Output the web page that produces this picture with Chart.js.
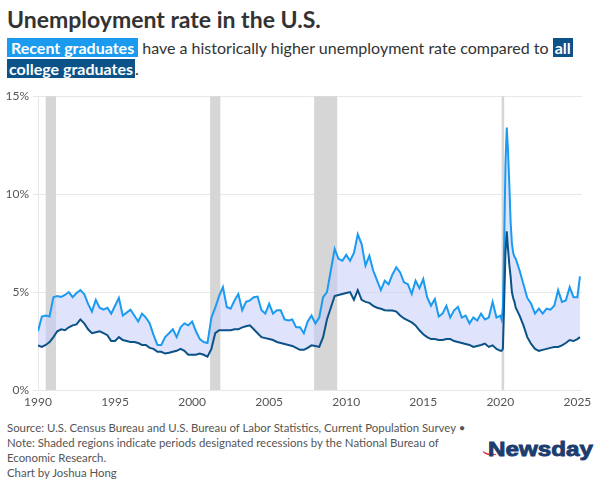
<!DOCTYPE html>
<html lang="en">
<head>
  <meta charset="UTF-8">
  <meta name="viewport" content="width=device-width, initial-scale=1.0">
  <title>Unemployment rate in the U.S.</title>
  <style>
    body {
      margin: 0;
      width: 600px;
      height: 481px;
      overflow: hidden;
      background: #fff;
      font-family: Lato, "Open Sans", sans-serif;
      color: #333;
      position: relative;
    }
    #title {
      position: absolute;
      left: 7px;
      top: 6px;
      font-size: 23px;
      font-weight: 700;
      line-height: 1.2;
      color: #333;
    }
    #subtitle {
      position: absolute;
      left: 7px;
      top: 37px;
      font-size: 16px;
      line-height: 21px;
      color: #333;
      white-space: nowrap;
    }
    .hl1 { background: #1a9bf0; color: #fff; font-weight: 700; padding: 0 4px; }
    .hl2 { background: #0b5288; color: #fff; font-weight: 700; padding: 0 2px; }
    #chartBox {
      position: absolute;
      left: 0;
      top: 85px;
      width: 600px;
      height: 327px;
    }
    #notes {
      position: absolute;
      left: 7px;
      top: 420px;
      font-size: 11.4px;
      line-height: 15px;
      color: #555;
      white-space: nowrap;
    }
    #logo {
      position: absolute;
      left: 478px;
      top: 435px;
    }
  </style>
  <script src="https://cdn.jsdelivr.net/npm/chart.js@4"></script>
</head>
<body>

  <div id="title">Unemployment rate in the U.S.</div>
  <div id="subtitle"><span class="hl1">Recent graduates</span> have a historically higher unemployment rate compared to <span class="hl2">all</span><br><span class="hl2">college graduates</span>.</div>

  <div id="chartBox"><canvas id="chart"></canvas></div>

  <div id="notes">
    Source: U.S. Census Bureau and U.S. Bureau of Labor Statistics, Current Population Survey •<br>
    Note: Shaded regions indicate periods designated recessions by the National Bureau of<br>
    Economic Research.<br>
    Chart by Joshua Hong
  </div>

  <!-- logo -->
  <svg id="logo" width="120" height="30" viewBox="0 0 120 30">
    <path d="M5 16.5 Q8 21 18 19.5 Q9 19.5 5 16.5 Z" fill="#e0252d" stroke="#e0252d" stroke-width="0.7"/>
    <text x="10" y="21" font-family="Liberation Sans, Arial, sans-serif" font-weight="700" font-size="21"
          fill="#1d3c6e" stroke="#1d3c6e" stroke-width="0.9" textLength="105" lengthAdjust="spacingAndGlyphs">Newsday</text>
  </svg>

  <script>
    // 日期（季度，2020年按月）
    const dates = [
      '1990-01','1990-04','1990-07','1990-10', '1991-01','1991-04','1991-07','1991-10',
      '1992-01','1992-04','1992-07','1992-10', '1993-01','1993-04','1993-07','1993-10',
      '1994-01','1994-04','1994-07','1994-10', '1995-01','1995-04','1995-07','1995-10',
      '1996-01','1996-04','1996-07','1996-10', '1997-01','1997-04','1997-07','1997-10',
      '1998-01','1998-04','1998-07','1998-10', '1999-01','1999-04','1999-07','1999-10',
      '2000-01','2000-04','2000-07','2000-10', '2001-01','2001-04','2001-07','2001-10',
      '2002-01','2002-04','2002-07','2002-10', '2003-01','2003-04','2003-07','2003-10',
      '2004-01','2004-04','2004-07','2004-10', '2005-01','2005-04','2005-07','2005-10',
      '2006-01','2006-04','2006-07','2006-10', '2007-01','2007-04','2007-07','2007-10',
      '2008-01','2008-04','2008-07','2008-10', '2009-01','2009-04','2009-07','2009-10',
      '2010-01','2010-04','2010-07','2010-10', '2011-01','2011-04','2011-07','2011-10',
      '2012-01','2012-04','2012-07','2012-10', '2013-01','2013-04','2013-07','2013-10',
      '2014-01','2014-04','2014-07','2014-10', '2015-01','2015-04','2015-07','2015-10',
      '2016-01','2016-04','2016-07','2016-10', '2017-01','2017-04','2017-07','2017-10',
      '2018-01','2018-04','2018-07','2018-10', '2019-01','2019-04','2019-07','2019-10',
      '2020-01','2020-02','2020-03','2020-04','2020-05','2020-06',
      '2020-07','2020-08','2020-09','2020-10','2020-11','2020-12',
      '2021-01','2021-04','2021-07','2021-10', '2022-01','2022-04','2022-07','2022-10',
      '2023-01','2023-04','2023-07','2023-10', '2024-01','2024-04','2024-07','2024-10',
      '2025-01','2025-03'
    ];

    // 应届毕业生失业率 (%)
    const recentGrads = [
      3.0, 3.75, 3.8, 3.75,   4.74, 4.8, 4.75, 4.85,
      5.0, 4.74, 4.95, 5.1,   4.9, 4.4, 4.0, 4.6,
      4.2, 4.1, 4.2, 3.9,     4.3, 4.7, 3.8, 3.95,
      4.1, 3.8, 3.5, 3.9,     3.7, 3.4, 2.8, 2.3,
      2.3, 2.7, 2.9, 3.1,     2.7, 3.2, 3.4, 3.3,
      3.5, 3.0, 2.6, 2.45,    2.4, 3.7, 4.2, 4.8,
      5.25, 4.24, 4.15, 4.57, 4.9, 4.07, 4.5, 4.57,
      4.74, 4.77, 4.07, 3.9,  4.4, 3.9, 4.07, 4.07,
      3.6, 3.55, 3.6, 3.2,    3.2, 2.9, 3.5, 3.8,
      3.4, 3.7, 4.74, 5.0,    6.1, 7.2, 6.7, 6.6,
      6.9, 6.6, 7.0, 7.95,    7.45, 6.35, 6.85, 6.1,
      5.6, 5.1, 5.58, 5.4,    5.9, 6.26, 6.0, 5.5,
      5.4, 4.9, 5.58, 5.2,    5.66, 4.74, 4.3, 4.65,
      3.75, 3.9, 4.3, 3.7,    4.07, 4.24, 3.7, 3.8,
      3.4, 3.7, 3.55, 3.9,    3.6, 3.7, 4.5, 3.7,
      3.8, 3.6, 4.2, 7.5, 11.5, 13.4,
      12.2, 10.5, 8.6, 7.5, 7.0, 6.8,
      6.7, 6.1, 5.4, 4.7,     4.4, 3.9, 4.15, 3.9,
      4.15, 4.1, 4.3, 5.1,    4.5, 4.57, 5.25, 4.74,
      4.74, 5.8
    ];

    // 全部大学毕业生失业率 (%)
    const allGrads = [
      2.28, 2.2, 2.3, 2.45,   2.7, 3.0, 3.1, 3.05,
      3.2, 3.3, 3.35, 3.6,    3.4, 3.1, 2.9, 2.95,
      3.0, 2.9, 2.8, 2.5,     2.5, 2.7, 2.55, 2.5,
      2.45, 2.45, 2.4, 2.3,   2.3, 2.15, 2.1, 1.95,
      1.95, 1.86, 1.9, 1.95,  2.0, 2.1, 2.0, 1.8,
      1.8, 1.8, 1.86, 1.8,    1.7, 2.1, 2.9, 3.05,
      3.05, 3.05, 3.05, 3.1,  3.1, 3.2, 3.25, 3.3,
      3.1, 2.9, 2.7, 2.65,    2.6, 2.55, 2.45, 2.4,
      2.35, 2.3, 2.25, 2.15,  2.05, 2.05, 2.15, 2.28,
      2.25, 2.2, 2.7, 3.6,    4.2, 4.8, 4.85, 4.9,
      4.95, 5.0, 4.6, 5.1,    4.6, 4.5, 4.45, 4.3,
      4.2, 4.15, 4.07, 4.06,  4.06, 4.0, 3.8, 3.65,
      3.55, 3.45, 3.3, 3.05,  2.85, 2.7, 2.6, 2.6,
      2.55, 2.55, 2.6, 2.6,   2.5, 2.45, 2.4, 2.35,
      2.3, 2.2, 2.25, 2.3,    2.37, 2.2, 2.28, 2.1,
      2.0, 2.0, 2.1, 4.5, 7.0, 8.1,
      7.2, 6.4, 5.8, 5.0, 4.7, 4.5,
      4.2, 3.8, 3.3, 2.7,     2.35, 2.1, 2.0, 2.05,
      2.1, 2.15, 2.2, 2.2,    2.28, 2.4, 2.55, 2.5,
      2.6, 2.7
    ];

    // 经济衰退区间（NBER）
    const recessionStart = ['1990-07', '2001-03', '2007-12', '2020-02'];
    const recessionEnd   = ['1991-03', '2001-11', '2009-06', '2020-04'];

    const xTicks = [1990, 1995, 2000, 2005, 2010, 2015, 2020, 2025];
    const yTicks = [0, 5, 10, 15];

    // "YYYY-MM" 转成小数年份
    function toYear(s) {
      const parts = s.split('-').map(Number);
      return parts[0] + (parts[1] - 1) / 12;
    }

    const recentPoints = dates.map((d, i) => ({ x: toYear(d), y: recentGrads[i] }));
    const allPoints = dates.map((d, i) => ({ x: toYear(d), y: allGrads[i] }));

    // 灰色衰退阴影
    const recessionShading = {
      id: 'recessionShading',
      beforeDatasetsDraw(chart) {
        const { ctx, chartArea, scales } = chart;
        const x = scales.x;
        ctx.save();
        ctx.fillStyle = '#d6d6d6';
        recessionStart.forEach((s, i) => {
          const x0 = x.getPixelForValue(toYear(s));
          const x1 = x.getPixelForValue(toYear(recessionEnd[i]));
          ctx.fillRect(x0, chartArea.top, Math.max(x1 - x0, 2.5), chartArea.bottom - chartArea.top);
        });
        ctx.restore();
      }
    };

    const tickFont = { family: 'Lato', size: 12 };

    new Chart(document.getElementById('chart'), {
      type: 'line',
      data: {
        datasets: [
          {
            label: 'All college graduates',
            data: allPoints,
            borderColor: '#0b5288',
            borderWidth: 2,
            pointRadius: 0,
            tension: 0,
            fill: false
          },
          {
            label: 'Recent graduates',
            data: recentPoints,
            borderColor: '#1a9bf0',
            borderWidth: 2,
            pointRadius: 0,
            tension: 0,
            fill: { target: '-1' },
            backgroundColor: 'rgba(196, 204, 250, 0.55)'
          }
        ]
      },
      options: {
        responsive: true,
        maintainAspectRatio: false,
        animation: false,
        layout: { padding: { top: 10, right: 18, left: 0, bottom: 0 } },
        plugins: {
          legend: { display: false },
          tooltip: { enabled: false }
        },
        scales: {
          x: {
            type: 'linear',
            min: 1990,
            max: 2025.3,
            grid: { display: false, drawTicks: false },
            border: { display: false },
            ticks: {
              color: '#555',
              font: tickFont,
              padding: 5,
              maxRotation: 0,
              autoSkip: false,
              callback: v => String(v)
            },
            afterBuildTicks: axis => { axis.ticks = xTicks.map(v => ({ value: v })); },
            afterFit: axis => { axis.height = 22; }
          },
          y: {
            min: 0,
            max: 15,
            grid: { color: '#e8e8e8', tickLength: 5 },
            border: { display: true, color: '#e8e8e8' },
            ticks: {
              color: '#555',
              font: tickFont,
              padding: 4,
              callback: v => v + '%'
            },
            afterBuildTicks: axis => { axis.ticks = yTicks.map(v => ({ value: v })); },
            afterFit: axis => { axis.width = 38; }
          }
        }
      },
      plugins: [recessionShading]
    });
  </script>

</body>
</html>
